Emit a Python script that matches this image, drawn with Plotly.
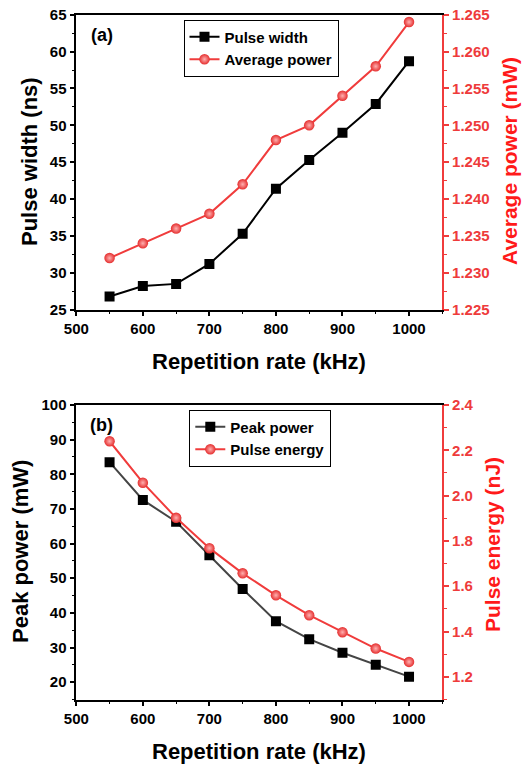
import plotly.graph_objects as go

rep_rate = [550, 600, 650, 700, 750, 800, 850, 900, 950, 1000]
pulse_width = [26.8, 28.2, 28.5, 31.2, 35.3, 41.4, 45.3, 49.0, 52.9, 58.7]
avg_power = [1.232, 1.234, 1.236, 1.238, 1.242, 1.248, 1.250, 1.254, 1.258, 1.264]
peak_power = [83.5, 72.6, 66.3, 56.6, 46.9, 37.6, 32.4, 28.5, 25.0, 21.6]
pulse_energy = [2.240, 2.057, 1.902, 1.768, 1.657, 1.560, 1.472, 1.397, 1.325, 1.266]

W, H = 522, 766
FONT = "Liberation Sans, Arial, sans-serif"
RED = "#f03c3c"
RED_T = "#ee3b3b"
TITLE_RED = "#ff1a1a"

def py(p):
    return 1 - p / H

def px_(x):
    return x / W

xdom = [px_(76.3), px_(442.3)]
top_dom = [py(309.7), py(14.7)]
bot_dom = [py(699.5), py(405.0)]

fig = go.Figure()

circ = dict(symbol="circle", size=10.5, color="#e52e2e",
            gradient=dict(type="radial", color="#ffb0b0"), line=dict(width=0))

fig.add_trace(go.Scatter(x=rep_rate, y=pulse_width, name="Pulse width", mode="lines+markers",
                         line=dict(color="black", width=2),
                         marker=dict(symbol="square", size=10, color="black"),
                         xaxis="x", yaxis="y", legend="legend"))
fig.add_trace(go.Scatter(x=rep_rate, y=avg_power, name="Average power", mode="lines+markers",
                         line=dict(color=RED, width=2), marker=circ,
                         xaxis="x", yaxis="y2", legend="legend"))
fig.add_trace(go.Scatter(x=rep_rate, y=peak_power, name="Peak power", mode="lines+markers",
                         line=dict(color="#454545", width=2),
                         marker=dict(symbol="square", size=10, color="black"),
                         xaxis="x2", yaxis="y3", legend="legend2"))
fig.add_trace(go.Scatter(x=rep_rate, y=pulse_energy, name="Pulse energy", mode="lines+markers",
                         line=dict(color=RED, width=2), marker=circ,
                         xaxis="x2", yaxis="y4", legend="legend2"))

tickfont_k = dict(family=FONT, size=15, color="black", weight="bold")
tickfont_r = dict(family=FONT, size=15, color=RED_T, weight="bold")

def xax(anchor):
    return dict(domain=xdom, anchor=anchor, range=[500, 1050], tick0=0, dtick=100,
                automargin=False, ticklabeloverflow="allow",
                showline=True, linecolor="black", linewidth=1.5, mirror=True,
                ticks="outside", ticklen=5, tickwidth=1.5, tickcolor="black",
                tickfont=tickfont_k, showgrid=False, zeroline=False,
                minor=dict(dtick=50, tick0=0, ticks="outside", ticklen=3, tickwidth=1.2,
                           tickcolor="black", showgrid=False))

def yax_left(dom, anchor, rng, dtick, mdtick):
    return dict(domain=dom, anchor=anchor, range=rng, tick0=0, dtick=dtick,
                automargin=False, ticklabeloverflow="allow",
                showline=True, linecolor="black", linewidth=1.5, mirror=False,
                ticks="outside", ticklen=5, tickwidth=1.5, tickcolor="black",
                tickfont=tickfont_k, showgrid=False, zeroline=False,
                minor=dict(dtick=mdtick, tick0=0, ticks="outside", ticklen=3, tickwidth=1.2,
                           tickcolor="black", showgrid=False))

def yax_right(over, anchor, rng, dtick, mdtick, fmt):
    return dict(overlaying=over, anchor=anchor, side="right", range=rng, tick0=0, dtick=dtick,
                tickformat=fmt, automargin=False, ticklabeloverflow="allow",
                showline=True, linecolor=RED, linewidth=1.5,
                ticks="outside", ticklen=5, tickwidth=1.5, tickcolor=RED,
                tickfont=tickfont_r, showgrid=False, zeroline=False,
                minor=dict(dtick=mdtick, tick0=0, ticks="outside", ticklen=3, tickwidth=1.2,
                           tickcolor=RED, showgrid=False))

legfont = dict(family=FONT, size=15, color="black", weight="bold")

fig.update_layout(
    template="none",
    width=W, height=H,
    margin=dict(l=0, r=0, t=0, b=0, autoexpand=False),
    paper_bgcolor="white", plot_bgcolor="white",
    xaxis=xax("y"),
    yaxis=yax_left(top_dom, "x", [25, 65], 5, 2.5),
    yaxis2=yax_right("y", "x", [1.225, 1.265], 0.005, 0.0025, ".3f"),
    xaxis2=xax("y3"),
    yaxis3=yax_left(bot_dom, "x2", [15, 100], 10, 5),
    yaxis4=yax_right("y3", "x2", [1.1, 2.4], 0.2, 0.1, ".1f"),
    legend=dict(x=px_(183.5), y=py(19.5), xanchor="left", yanchor="top",
                bordercolor="black", borderwidth=1, bgcolor="white",
                font=legfont, tracegroupgap=0),
    legend2=dict(x=px_(189.3), y=py(409.5), xanchor="left", yanchor="top",
                 bordercolor="black", borderwidth=1, bgcolor="white",
                 font=legfont, tracegroupgap=0),
    showlegend=True,
)

tfont = dict(family=FONT, size=22, color="black", weight="bold")
tfont_r = dict(family=FONT, size=21, color=TITLE_RED, weight="bold")
lfont = dict(family=FONT, size=18, color="black", weight="bold")

ann = [
    dict(text="Repetition rate (kHz)", x=px_(259.3), y=py(361), font=tfont, textangle=0),
    dict(text="Repetition rate (kHz)", x=px_(259.3), y=py(751), font=tfont, textangle=0),
    dict(text="Pulse width (ns)", x=px_(29), y=py(162), font=tfont, textangle=-90),
    dict(text="Average power (mW)", x=px_(509), y=py(161), font=tfont_r, textangle=-90),
    dict(text="Peak power (mW)", x=px_(20), y=py(552), font=tfont, textangle=-90),
    dict(text="Pulse energy (nJ)", x=px_(492), y=py(545), font=tfont_r, textangle=-90),
    dict(text="(a)", x=px_(101.5), y=py(35.5), font=lfont, textangle=0),
    dict(text="(b)", x=px_(101.5), y=py(425), font=lfont, textangle=0),
]
for a in ann:
    fig.add_annotation(xref="paper", yref="paper", showarrow=False,
                       xanchor="center", yanchor="middle", **a)

fig.write_html("out.html",
               config={"displayModeBar": False},
               post_script="document.body.style.margin='0';document.body.style.overflow='hidden';")
